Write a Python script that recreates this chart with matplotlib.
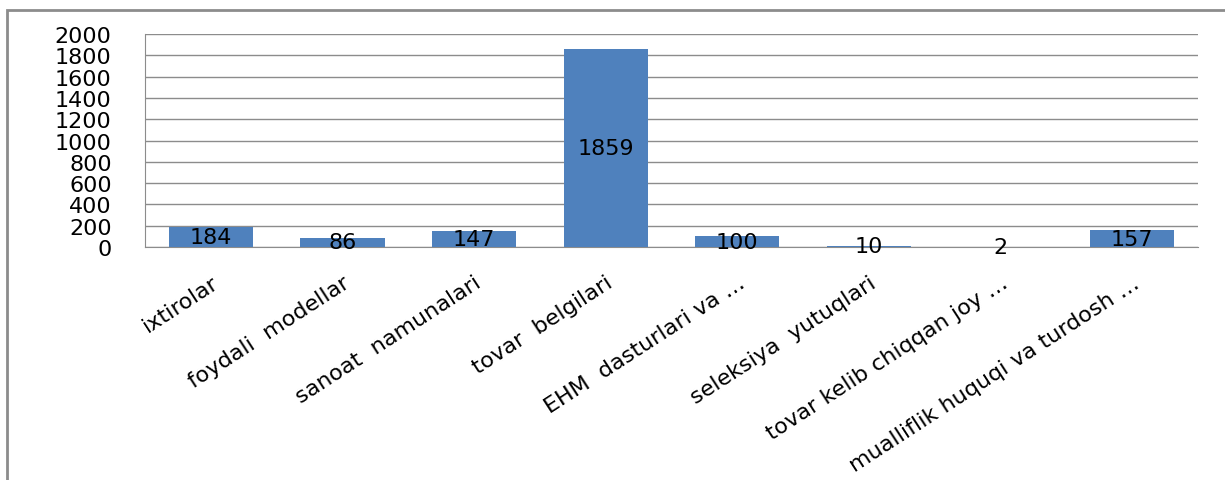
import matplotlib
matplotlib.use("Agg")
import matplotlib.pyplot as plt
from matplotlib.patches import Rectangle

categories = ["ixtirolar", "foydali  modellar", "sanoat  namunalari", "tovar  belgilari",
              "EHM  dasturlari va \u2026", "seleksiya  yutuqlari", "tovar kelib chiqqan joy \u2026",
              "mualliflik huquqi va turdosh \u2026"]
values = [184, 86, 147, 1859, 100, 10, 2, 157]
yticks = [0, 200, 400, 600, 800, 1000, 1200, 1400, 1600, 1800, 2000]

fig = plt.figure(figsize=(12.25, 4.81), dpi=100)
fig.patch.set_facecolor("white")
fig.patches.append(Rectangle((7/1225, -0.1), 1.2, 1 - 11/481 + 0.1, transform=fig.transFigure,
                             fill=False, edgecolor="#8c8c8c", linewidth=2))

ax = fig.add_axes([145/1225, 1 - 248/481, (1198 - 145)/1225, (248 - 35)/481])
x = list(range(len(categories)))
bars = ax.bar(x, values, width=0.64, color="#4F81BD", zorder=3)
ax.bar_label(bars, labels=[str(v) for v in values], label_type="center",
             fontsize=16, color="black", zorder=4)

ax.set_xlim(-0.5, len(categories) - 0.5)
ax.set_ylim(0, 2000)
ax.set_yticks(yticks)
ax.set_yticklabels([str(t) for t in yticks], fontsize=16)
ax.yaxis.grid(True, color="#8c8c8c", linewidth=1, zorder=0)
ax.tick_params(axis="y", length=0, pad=24)
ax.tick_params(axis="x", length=0, pad=18)
ax.set_xticks(x)
ax.set_xticklabels(categories, rotation=33, ha="right", va="top", rotation_mode="anchor",
                   fontsize=16)
for s in ["top", "right"]:
    ax.spines[s].set_visible(False)
for s in ["left", "bottom"]:
    ax.spines[s].set_color("#8c8c8c")

fig.savefig("out.png", dpi=100)
